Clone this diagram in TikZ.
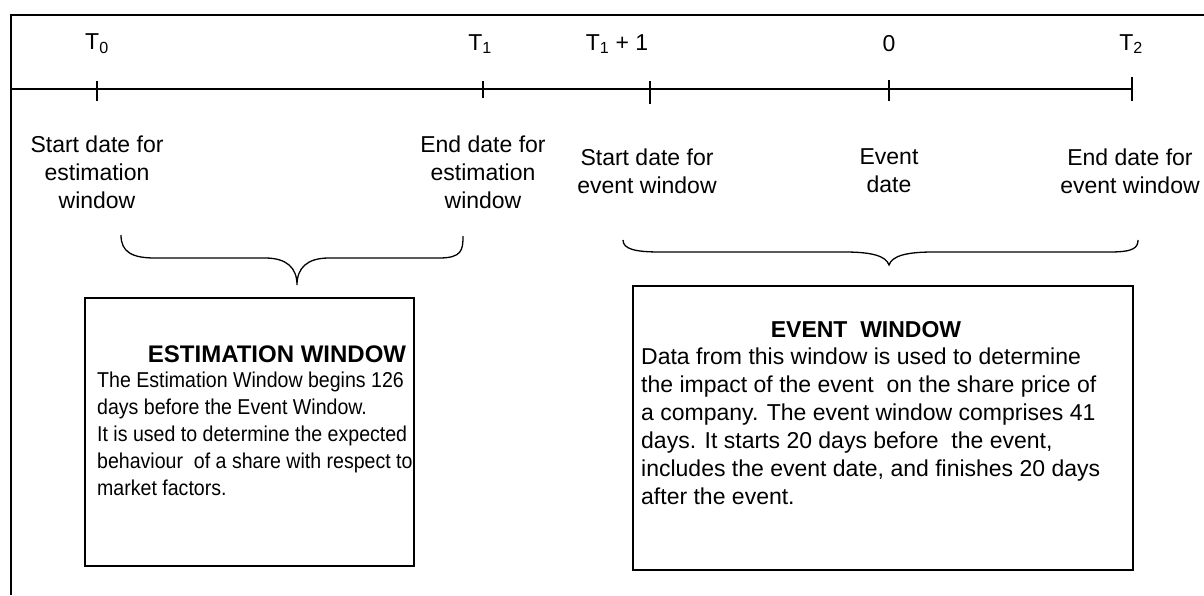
\documentclass[tikz,border=0pt]{standalone}
\usepackage{fontspec}
\setmainfont{Liberation Sans}
\newfontfamily\narrowsans[FakeStretch=0.91]{Liberation Sans}
\begin{document}
\begin{tikzpicture}[x=1pt,y=-1pt,
  every node/.style={inner sep=0pt, font=\fontsize{23}{28}\selectfont},
  lbl/.style={align=center},
  title/.style={font=\fontsize{23}{28}\selectfont\bfseries},
  body/.style={align=left, anchor=west},
  frame/.style={line width=2pt},
  axis/.style={line width=1.4pt},
  tick/.style={line width=1.4pt},
  brace/.style={line width=1.3pt},
  winbox/.style={draw, line width=1.5pt}]
\useasboundingbox (0,0) rectangle (1204,595);

% outer frame
\draw[frame] (11,595) -- (11,15) -- (1204,15);

% time axis and its ticks
\coordinate (axisL) at (12,89);
\coordinate (axisR) at (1132,89);
\draw[axis] (axisL) -- (axisR);
\coordinate (t0) at (97,89);
\coordinate (t1) at (483,89);
\coordinate (t1p) at (650,89);
\coordinate (tz) at (889,89);
\coordinate (t2) at (1132,89);
\draw[tick] ([yshift=-12]t0) -- ([yshift=8]t0);
\draw[tick] ([yshift=-9]t1) -- ([yshift=8]t1);
\draw[tick] ([yshift=-15]t1p) -- ([yshift=8]t1p);
\draw[tick] ([yshift=-12]tz) -- ([yshift=9]tz);
\draw[tick] ([yshift=-12]t2) -- ([yshift=12]t2);

% tick labels
\node (lt0) at (97,44) {T\textsubscript{0}};
\node (lt1) at (480,44) {T\textsubscript{1}};
\node (lt1p) at (617,44) {T\textsubscript{1} + 1};
\node (ltz) at (889,44) {0};
\node (lt2) at (1131,44) {T\textsubscript{2}};

% date descriptions
\node[lbl] (d0) at (97,172) {Start date for\\estimation\\window};
\node[lbl] (d1) at (483,172) {End date for\\estimation\\window};
\node[lbl] (d2) at (647,171) {Start date for\\event window};
\node[lbl] (d3) at (889,171) {Event\\date};
\node[lbl] (d4) at (1130,171) {End date for\\event window};

% braces grouping the windows
\draw[brace] (121,235) .. controls (121,252) and (132,258) .. (155,258)
  -- (265,258) .. controls (287,258) and (297,268) .. (297,285)
  .. controls (297,268) and (307,258) .. (329,258)
  -- (439,258) .. controls (462,258) and (463,250) .. (463,236);
\draw[brace] (623,240) .. controls (623,249) and (635,252) .. (660,252)
  -- (845,252) .. controls (872,252) and (886,256) .. (889,265)
  .. controls (892,256) and (906,252) .. (933,252)
  -- (1110,252) .. controls (1133,252) and (1138,248) .. (1138,240);

% estimation window box
\node[winbox, minimum width=329, minimum height=268, anchor=north west] (est) at (84,297) {};
\node[title, font=\fontsize{24}{28}\selectfont\bfseries] (estT) at (277,354) {ESTIMATION WINDOW};
\node[body, font=\narrowsans\fontsize{21.5}{27}\selectfont] (estB) at (97,434) {The Estimation Window begins 126\\days before the Event Window.\\It is used to determine the expected\\behaviour\ \ of a share with respect to\\market factors.};

% event window box
\node[winbox, minimum width=500, minimum height=284, anchor=north west] (evt) at (632,285) {};
\node[title] (evtT) at (866,330) {EVENT\ \ WINDOW};
\node[body] (evtB) at (641,426) {Data from this window is used to determine\\the impact of the event\ \ on the share price of\\a company. The event window comprises 41\\days. It starts 20 days before\ \ the event,\\includes the event date, and finishes 20 days\\after the event.};
\end{tikzpicture}
\end{document}
